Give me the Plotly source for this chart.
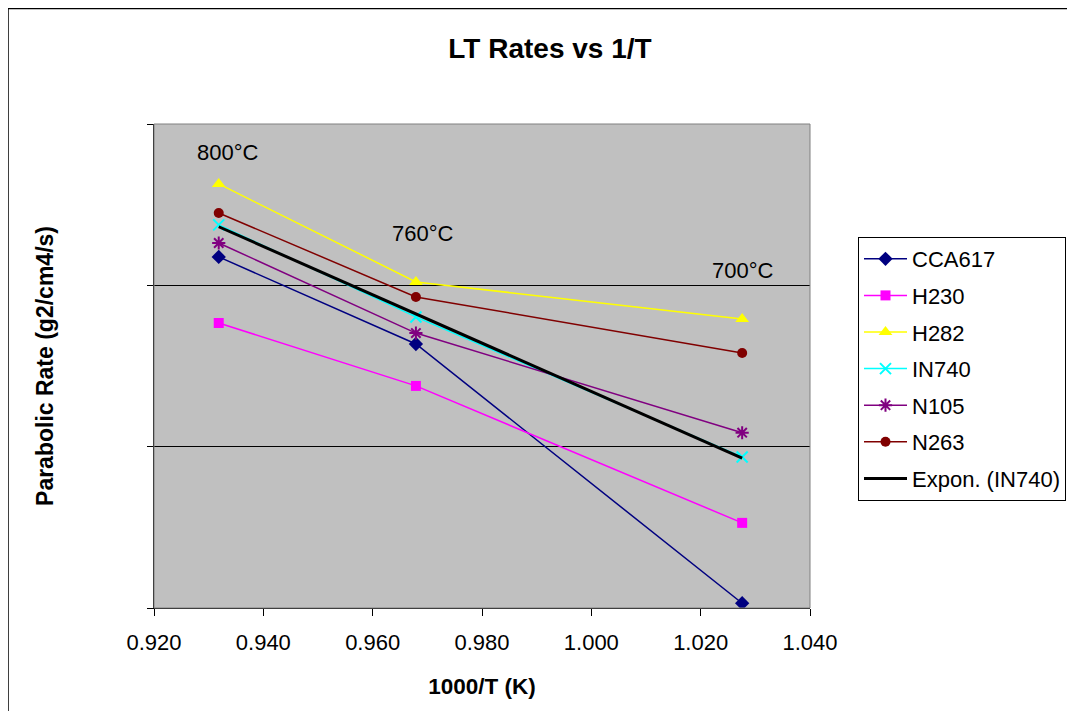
import numpy as np
import plotly.graph_objects as go

# 1000/T for 800, 760, 700 °C
inv_T = [0.93184, 0.96791, 1.02759]
temp_labels = ["800°C", "760°C", "700°C"]

CCA617 = [1.50e-12, 4.33e-13, 1.07e-14]
H230 = [5.84e-13, 2.38e-13, 3.37e-14]
H282 = [4.25e-12, 1.05e-12, 6.18e-13]
IN740 = [2.37e-12, 6.37e-13, 8.63e-14]
N105 = [1.83e-12, 5.06e-13, 1.22e-13]
N263 = [2.81e-12, 8.47e-13, 3.81e-13]

series = [
    ("CCA617", CCA617, "#000080", "diamond", 11),
    ("H230", H230, "#FF00FF", "square", 10),
    ("H282", H282, "#FFFF00", "triangle-up", 12),
    ("IN740", IN740, "#00FFFF", "x-thin-open", 11),
    ("N105", N105, "#800080", "asterisk-open", 11),
    ("N263", N263, "#800000", "circle", 10),
]

fig = go.Figure()
for i, (name, vals, color, sym, size) in enumerate(series):
    marker = dict(symbol=sym, size=size, color=color)
    if sym.endswith("open"):
        marker["line"] = dict(color=color, width=2)
    fig.add_trace(go.Scatter(
        x=inv_T, y=vals, name=name, mode="lines+markers",
        line=dict(color=color, width=1.5), marker=marker,
        legendgroup=name,
    ))

# Exponential trendline for IN740 (least squares on ln y)
b, a = np.polyfit(inv_T, np.log(IN740), 1)
xt = np.linspace(inv_T[0], inv_T[-1], 60)
yt = np.exp(a + b * xt)
fig.add_trace(go.Scatter(x=xt, y=yt, name="Expon. (IN740)", mode="lines",
                         line=dict(color="black", width=3), legendgroup="trend"))

# figure is placed 8px in from the window edge by the page margin
OFF = 8
W, H = 1075 - 2 * OFF, 719 - 2 * OFF
L, R, T, B = 154 - OFF, 810 - OFF, 124 - OFF, 608 - OFF
pw, ph = R - L, B - T

def px(x):
    return (x - L) / pw

def py(y):
    return (B - y) / ph

# label positions in data coordinates
label_x = [0.9335, 0.9692, 1.0277]
label_y = [-11.174, -11.676, -11.905]
annotations = [dict(x=lx, y=ly, xref="x", yref="y", text=t, showarrow=False,
                    font=dict(size=22, color="black"))
               for lx, ly, t in zip(label_x, label_y, temp_labels)]

shapes = [
    dict(type="rect", xref="paper", yref="paper", x0=0, x1=1, y0=0, y1=1,
         line=dict(color="#808080", width=1), layer="above"),
    dict(type="rect", xref="paper", yref="paper", x0=px(0), x1=px(W + 20),
         y0=py(H + 20), y1=py(0.5), line=dict(color="black", width=1.5)),
]

fig.update_layout(
    width=W, height=H,
    margin=dict(l=L, r=W - R, t=T, b=H - B, autoexpand=False),
    paper_bgcolor="white", plot_bgcolor="#C0C0C0",
    font=dict(family="Liberation Sans, Arial, sans-serif", size=22, color="black"),
    title=dict(text="<b>LT Rates vs 1/T</b>", xref="container", x=(550 - OFF) / W,
               xanchor="center", yref="container", y=1 - (48 - OFF) / H,
               yanchor="middle", font=dict(size=28)),
    showlegend=True,
    legend=dict(x=px(858 - OFF), y=py(237 - OFF), xanchor="left", yanchor="top",
                bgcolor="white", bordercolor="black", borderwidth=1,
                traceorder="grouped", tracegroupgap=5, itemwidth=43,
                font=dict(size=22)),
    annotations=annotations,
    shapes=shapes,
)
fig.update_xaxes(range=[0.92, 1.04], dtick=0.02, tick0=0.92, tickformat=".3f",
                 ticks="outside", ticklen=7, tickcolor="black",
                 ticklabelstandoff=8,
                 showline=True, linecolor="black", linewidth=1,
                 showgrid=False, zeroline=False,
                 title=dict(text="<b>1000/T (K)</b>", standoff=23,
                            font=dict(size=22.5)))
fig.update_yaxes(type="log", range=[-14, -11],
                 tickvals=[1e-14, 1e-13, 1e-12, 1e-11], showticklabels=False,
                 ticks="outside", ticklen=6, tickcolor="black",
                 showline=True, linecolor="black", linewidth=1,
                 showgrid=True, gridcolor="black", gridwidth=1,
                 minor=dict(showgrid=False, ticks=""),
                 zeroline=False,
                 title=dict(text="<b>Parabolic Rate (g2/cm4/s)</b>", standoff=86,
                            font=dict(size=23)))

fig.write_html("out.html")
